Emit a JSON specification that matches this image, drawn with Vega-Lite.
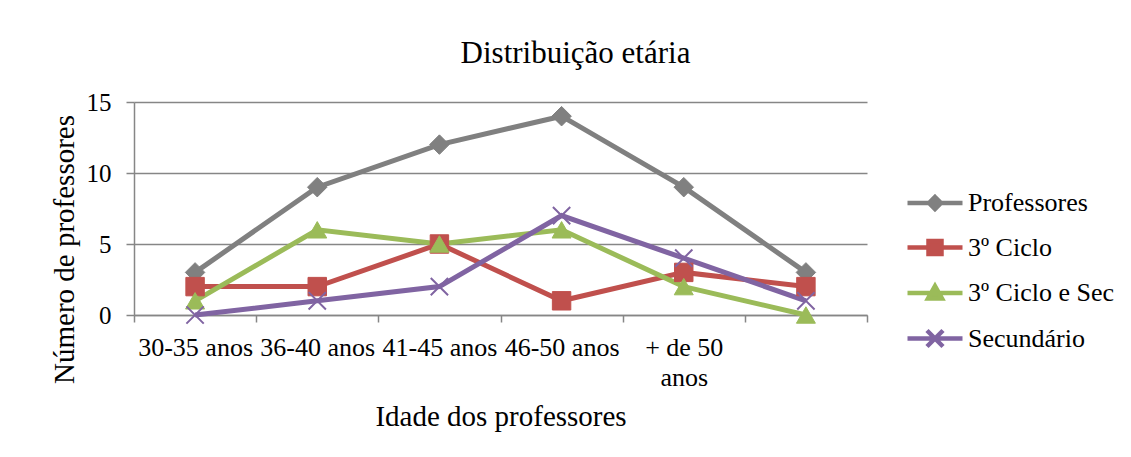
{
  "$schema": "https://vega.github.io/schema/vega-lite/v6.json",
  "width": 733,
  "height": 213,
  "autosize": {"type": "none"},
  "padding": {"left": 134, "top": 102, "right": 264, "bottom": 142},
  "background": "white",
  "config": {"font": "Liberation Serif", "view": {"stroke": null}},
  "title": {
    "text": "Distribuição etária",
    "fontSize": 31,
    "fontWeight": "normal",
    "color": "black",
    "font": "Liberation Serif",
    "frame": "group",
    "anchor": "middle",
    "dx": 75,
    "dy": 44,
    "baseline": "alphabetic",
    "offset": 40
  },
  "data": {
    "values": [
      {"serie": "Professores", "idade": "30-35 anos", "ordem": 1, "n": 3},
      {"serie": "Professores", "idade": "36-40 anos", "ordem": 2, "n": 9},
      {"serie": "Professores", "idade": "41-45 anos", "ordem": 3, "n": 12},
      {"serie": "Professores", "idade": "46-50 anos", "ordem": 4, "n": 14},
      {"serie": "Professores", "idade": "+ de 50 anos", "ordem": 5, "n": 9},
      {"serie": "Professores", "idade": " ", "ordem": 6, "n": 3},
      {"serie": "3º Ciclo", "idade": "30-35 anos", "ordem": 1, "n": 2},
      {"serie": "3º Ciclo", "idade": "36-40 anos", "ordem": 2, "n": 2},
      {"serie": "3º Ciclo", "idade": "41-45 anos", "ordem": 3, "n": 5},
      {"serie": "3º Ciclo", "idade": "46-50 anos", "ordem": 4, "n": 1},
      {"serie": "3º Ciclo", "idade": "+ de 50 anos", "ordem": 5, "n": 3},
      {"serie": "3º Ciclo", "idade": " ", "ordem": 6, "n": 2},
      {"serie": "3º Ciclo e Sec", "idade": "30-35 anos", "ordem": 1, "n": 1},
      {"serie": "3º Ciclo e Sec", "idade": "36-40 anos", "ordem": 2, "n": 6},
      {"serie": "3º Ciclo e Sec", "idade": "41-45 anos", "ordem": 3, "n": 5},
      {"serie": "3º Ciclo e Sec", "idade": "46-50 anos", "ordem": 4, "n": 6},
      {"serie": "3º Ciclo e Sec", "idade": "+ de 50 anos", "ordem": 5, "n": 2},
      {"serie": "3º Ciclo e Sec", "idade": " ", "ordem": 6, "n": 0},
      {"serie": "Secundário", "idade": "30-35 anos", "ordem": 1, "n": 0},
      {"serie": "Secundário", "idade": "36-40 anos", "ordem": 2, "n": 1},
      {"serie": "Secundário", "idade": "41-45 anos", "ordem": 3, "n": 2},
      {"serie": "Secundário", "idade": "46-50 anos", "ordem": 4, "n": 7},
      {"serie": "Secundário", "idade": "+ de 50 anos", "ordem": 5, "n": 4},
      {"serie": "Secundário", "idade": " ", "ordem": 6, "n": 1}
    ]
  },
  "encoding": {
    "x": {
      "field": "idade",
      "type": "ordinal",
      "sort": ["30-35 anos", "36-40 anos", "41-45 anos", "46-50 anos", "+ de 50 anos", " "],
      "bandPosition": 0.5,
      "scale": {"type": "band", "paddingInner": 0, "paddingOuter": 0},
      "axis": {
        "title": "Idade dos professores",
        "titleFontSize": 29,
        "titleFontWeight": "normal",
        "titleColor": "black",
        "titleFont": "Liberation Serif",
        "titleBaseline": "alphabetic",
        "titleY": 110,
        "labelFontSize": 26,
        "labelFont": "Liberation Serif",
        "labelColor": "black",
        "labelAngle": 0,
        "labelAlign": "center",
        "labelPadding": 12,
        "labelLineHeight": 30,
        "labelOverlap": false,
        "labelLimit": 400,
        "labelExpr": "datum.value == '+ de 50 anos' ? ['+ de 50', 'anos'] : datum.label",
        "tickBand": "extent",
        "ticks": true,
        "tickSize": 7,
        "tickWidth": 1.5,
        "tickColor": "#868686",
        "domainColor": "#868686",
        "domainWidth": 1.5,
        "grid": false
      }
    },
    "y": {
      "field": "n",
      "type": "quantitative",
      "scale": {"domain": [0, 15], "nice": false, "zero": true},
      "axis": {
        "values": [0, 5, 10, 15],
        "title": "Número de professores",
        "titleFontSize": 29,
        "titleFontWeight": "normal",
        "titleColor": "black",
        "titleFont": "Liberation Serif",
        "titleBaseline": "alphabetic",
        "titleX": -61,
        "titleY": 147,
        "titleAngle": -90,
        "labelFontSize": 25,
        "labelFont": "Liberation Serif",
        "labelColor": "black",
        "labelPadding": 15,
        "tickSize": 8,
        "tickWidth": 1.5,
        "tickColor": "#868686",
        "domainColor": "#868686",
        "domainWidth": 1.5,
        "grid": true,
        "gridColor": "#868686",
        "gridWidth": 1.5
      }
    }
  },
  "layer": [
    {
      "mark": {"type": "line", "strokeWidth": 5},
      "encoding": {
        "order": {"field": "ordem", "type": "quantitative"},
        "color": {
          "field": "serie",
          "type": "nominal",
          "scale": {
            "domain": ["Professores", "3º Ciclo", "3º Ciclo e Sec", "Secundário"],
            "range": ["#808080", "#C0504D", "#9BBB59", "#8064A2"]
          },
          "legend": {
            "title": null,
            "orient": "none",
            "legendX": 788,
            "legendY": 88,
            "padding": 0,
            "labelFontSize": 26,
            "labelFont": "Liberation Serif",
            "labelColor": "black",
            "labelLimit": 400,
            "symbolType": "stroke",
            "symbolStrokeWidth": 4.5,
            "symbolSize": 400,
            "labelOffset": 20,
            "rowPadding": 13.5,
            "encode": {
              "symbols": {
                "update": {
                  "shape": {"signal": "datum.value === 'Professores' ? 'M-2.75,0H2.75M0,-0.6L0.6,0L0,0.6L-0.6,0Z' : datum.value === '3º Ciclo' ? 'M-2.75,0H2.75M-0.65,-0.65H0.65V0.65H-0.65Z' : datum.value === '3º Ciclo e Sec' ? 'M-2.75,0H2.75M0,-0.7L0.7,0.55H-0.7Z' : 'M-2.75,0H2.75M-0.8,-0.8L0.8,0.8M-0.8,0.8L0.8,-0.8'"},
                  "fill": {"signal": "datum.value === 'Secundário' ? 'transparent' : scale('color', datum.value)"},
                  "stroke": {"signal": "scale('color', datum.value)"},
                  "strokeWidth": {"value": 4.5},
                  "size": {"value": 400},
                  "opacity": {"value": 1}
                }
              }
            }
          }
        }
      }
    },
    {
      "transform": [{"filter": "datum.serie === 'Professores'"}],
      "mark": {"type": "point", "shape": "diamond", "filled": true, "fill": "#808080", "stroke": "#808080", "strokeWidth": 1, "opacity": 1, "size": 380}
    },
    {
      "transform": [{"filter": "datum.serie === '3º Ciclo'"}],
      "mark": {"type": "point", "shape": "square", "filled": true, "fill": "#C0504D", "stroke": "#C0504D", "strokeWidth": 1, "opacity": 1, "size": 340}
    },
    {
      "transform": [{"filter": "datum.serie === '3º Ciclo e Sec'"}],
      "mark": {"type": "point", "shape": "triangle-up", "filled": true, "fill": "#9BBB59", "stroke": "#9BBB59", "strokeWidth": 1, "opacity": 1, "size": 360}
    },
    {
      "transform": [{"filter": "datum.serie === 'Secundário'"}],
      "mark": {"type": "point", "shape": "M-1,-1L1,1M-1,1L1,-1", "filled": false, "stroke": "#8064A2", "strokeWidth": 2, "opacity": 1, "size": 300}
    }
  ]
}
